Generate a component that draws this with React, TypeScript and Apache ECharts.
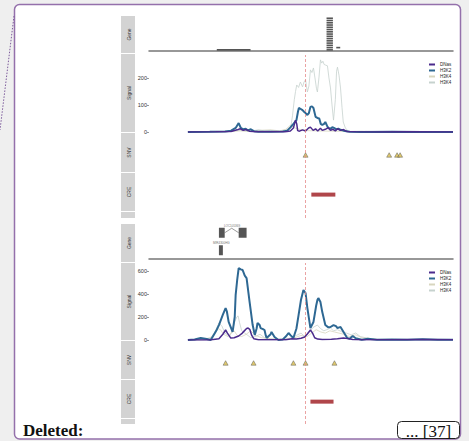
import React, { useEffect, useRef } from 'react';
import * as echarts from 'echarts';

// ---------- data ----------
const trackNames = ['Gene', 'Signal', 'SNV', 'CRE'];
const seriesNames = ['DNase', 'H3K27ac', 'H3K4me1', 'H3K4me3'];
const signalTicks1 = [0, 100, 200];
const signalTicks2 = [0, 200, 400, 600];
const variantPos = 51.5;

// plot 1 gene models: [start, end, row]
const geneBlocks1 = [
  [22.3, 33.4, 0],
  [58.4, 60.5, 0], [58.4, 60.5, 1], [58.4, 60.5, 2], [58.4, 60.5, 3], [58.4, 60.5, 4],
  [58.4, 60.5, 5], [58.4, 60.5, 6], [58.4, 60.5, 7], [58.4, 60.5, 8], [58.4, 60.5, 9],
  [58.4, 60.5, 10], [58.4, 60.5, 11], [58.4, 60.5, 12], [58.4, 60.5, 13], [58.4, 60.5, 14],
  [61.6, 62.9, 1],
];
// plot 2 gene models
const geneExons2 = [[23.0, 24.9, 1], [29.5, 32.1, 1], [23.0, 24.3, 0]];
const geneIntrons2 = [[24.9, 29.5, 1]];
const geneLabels2: [string, number, number][] = [['LOC105369', 27.3, 1], ['MIR4300HG', 23.8, 0]];

// plot 1 signals [position, signal]
const dnase1 = [[12.8,0],[22,1],[27,2],[29,8],[30,12],[31,6],[32,9],[33,3],[35,1],[45,1],[46.5,4],[47.5,15],[48.2,44],[48.6,30],[48.9,5],[49.5,3],[50.5,8],[51.5,4],[52.5,15],[53.1,18],[54,6],[54.8,12],[55.5,4],[56.4,14],[57,6],[58,10],[59,16],[59.7,6],[60.5,10],[61.3,4],[62,12],[63,6],[64,9],[65,2],[68,1],[75,0],[85,1],[100,0]];
const h3k27ac1 = [[12.8,0],[20,1],[25,2],[27,5],[28.5,15],[29.5,33],[30.2,15],[31,10],[31.8,12],[32.5,6],[33.5,10],[34.5,3],[36,1],[40,1],[44,2],[45.5,5],[46.6,18],[47.5,30],[48.5,44],[49.0,75],[49.3,89],[49.8,86],[50.5,81],[51.0,75],[51.5,70],[52.1,63],[52.6,70],[53.1,93],[53.6,95],[54.1,89],[54.8,56],[55.4,52],[56,50],[56.5,30],[57.0,26],[57.6,30],[58.0,37],[58.7,20],[59.0,15],[59.7,12],[60.3,18],[61,14],[61.6,10],[62.3,12],[63,8],[64,5],[65,3],[66,1],[70,0],[80,1],[90,0],[100,0]];
const h3k4me1_1 = [[12.8,0],[25,1],[30,4],[33,2],[36,6],[40,8],[43,4],[45,10],[46.5,25],[48,15],[50,8],[52,5],[55,4],[60,3],[65,2],[70,1],[100,0]];
const h3k4me3_1 = [[12.8,1],[20,2],[26,3],[30,6],[33,3],[36,8],[38,4],[40,6],[43,2],[45,8],[46.6,15],[47.2,60],[47.8,120],[48.2,150],[48.6,174],[49.2,165],[49.8,185],[50.5,167],[51,185],[51.5,193],[52.1,148],[52.6,170],[53.1,230],[53.6,220],[54.1,237],[54.6,200],[55.1,160],[55.4,148],[55.9,200],[56.4,267],[56.8,255],[57.2,262],[57.6,250],[58.0,248],[58.7,245],[59.2,200],[59.7,163],[60.2,100],[60.7,44],[61.3,120],[61.7,225],[62.0,240],[62.5,210],[63.0,163],[63.5,90],[63.9,37],[64.6,15],[65.6,2],[70,3],[75,1],[80,2],[90,1],[100,1]];

// plot 2 signals
const dnase2 = [[12.8,0],[20,1],[23,10],[24.3,50],[25.2,87],[25.8,60],[26.9,17],[28,20],[29.5,35],[30.5,55],[31.2,75],[32.1,100],[32.6,104],[33.2,90],[33.8,40],[34.5,10],[36,3],[40,2],[45,3],[47,10],[48.5,8],[50,15],[51.2,26],[52,50],[53.1,87],[53.8,60],[54.5,20],[55.5,8],[57,4],[60,6],[62,10],[64,18],[65.5,12],[67,4],[70,2],[80,3],[90,5],[100,2]];
const h3k27ac2 = [[12.8,0],[15,4],[17,18],[19,8],[20.3,0],[21,30],[22.3,90],[23.0,130],[24.3,220],[25.2,278],[25.6,250],[26.2,157],[27.5,70],[28.2,200],[28.5,390],[29.0,520],[29.5,626],[30.2,615],[30.8,609],[31.5,560],[32.1,539],[33.1,330],[34.1,130],[34.8,43],[35.4,100],[35.7,148],[36.4,130],[36.7,104],[37.5,95],[38.0,87],[38.4,40],[38.7,17],[40.0,50],[40.3,70],[41.3,26],[42.6,0],[44,5],[45,30],[45.9,61],[46.6,40],[47.5,17],[48.5,100],[49.2,217],[50.0,350],[50.8,435],[51.2,420],[51.5,409],[52.1,278],[53.1,104],[54.1,157],[55.0,300],[55.4,348],[55.7,365],[56.4,330],[57.0,243],[58.0,130],[59.0,110],[59.7,113],[60.7,130],[61.5,120],[62.0,104],[62.6,110],[63.0,113],[64.0,70],[65.2,17],[66,10],[67,35],[68,15],[70,3],[72,10],[75,2],[80,5],[85,2],[90,6],[95,2],[100,3]];
const h3k4me1_2 = [[12.8,0],[18,3],[21,30],[22.5,100],[23.5,90],[24.5,50],[26,30],[27,60],[28,80],[29,40],[30.5,30],[32,50],[33.5,80],[35,40],[37,20],[40,10],[45,5],[48,20],[50,40],[52,30],[53.5,60],[55,90],[56.5,70],[58,60],[59.5,80],[61,70],[62.5,60],[64,50],[66,30],[68,45],[70,20],[75,5],[100,2]];
const h3k4me3_2 = [[12.8,0],[18,5],[20,10],[21.5,60],[23,148],[24,120],[25,60],[26.5,30],[27.5,90],[28.2,160],[28.9,200],[29.3,210],[29.8,150],[30.5,80],[31.5,60],[32.5,40],[33.5,20],[35,30],[36.5,50],[38,20],[40,10],[42,5],[45,8],[47,20],[48.5,40],[50,60],[51.2,30],[52,50],[53.1,80],[54,110],[55.4,130],[56.4,100],[57.5,80],[58.5,90],[59.7,104],[60.7,80],[62,90],[63.5,70],[65,60],[66.5,45],[68,61],[69.5,30],[72,15],[75,5],[80,3],[100,1]];

// variants and CREs
const snv1 = [51.5, 79.0, 81.6, 82.6];
const snv2 = [25.2, 34.4, 47.5, 51.5, 61.0];
const cre1 = [[53.4, 61.3]];
const cre2 = [[53.1, 60.7]];

// ---------- layout / styles ----------
const COLORS: Record<string, string> = {
  DNase: '#4b2b8c',
  H3K27ac: '#2e6893',
  H3K4me1: '#d8d6bf',
  H3K4me3: '#c6d2ce',
};
const WIDTHS: Record<string, number> = { DNase: 1.5, H3K27ac: 2, H3K4me1: 0.8, H3K4me3: 0.8 };
const SANS = '"Liberation Sans", Arial, sans-serif';
const SERIF = '"Liberation Serif", "Times New Roman", serif';
const GL = 149;
const GW = 304;

export default function App() {
  const ref = useRef<HTMLDivElement>(null);

  useEffect(() => {
    if (!ref.current) return;
    const chart = echarts.init(ref.current, undefined, { renderer: 'svg' });

    const gridDefs = [
      { top: 16, height: 35 }, { top: 55, height: 77 }, { top: 132, height: 41 }, { top: 173, height: 45 },
      { top: 224, height: 35 }, { top: 263, height: 77 }, { top: 340, height: 41 }, { top: 381, height: 43 },
    ];
    const grid = gridDefs.map((g) => ({ left: GL, width: GW, top: g.top, height: g.height, containLabel: false }));

    const xAxis = gridDefs.map((_, i) => {
      const isGene = i % 4 === 0;
      return {
        type: 'value', gridIndex: i, min: 0, max: 100, show: isGene,
        axisLine: { show: isGene, lineStyle: { color: '#777', width: 1.5 } },
        axisTick: { show: false }, axisLabel: { show: false }, splitLine: { show: false },
      };
    });

    const signalAxis = (max: number, interval: number, ticks: number[]) => ({
      type: 'value', min: 0, max, interval,
      axisLine: { show: false },
      axisTick: { show: true, length: 2, lineStyle: { color: '#555', width: 0.6 }, customValues: ticks },
      axisLabel: {
        fontSize: 5.5, color: '#333', margin: 2, fontFamily: SANS,
        customValues: ticks,
        formatter: (v: number) => (ticks.includes(v) ? String(v) : ''),
      },
      splitLine: { show: false },
    });
    const hiddenY = (min: number, max: number) => ({ type: 'value', min, max, show: false, splitLine: { show: false } });

    const yAxis = [
      { ...hiddenY(0, 15.5), gridIndex: 0 },
      { ...signalAxis(285, 100, signalTicks1), gridIndex: 1 },
      { ...hiddenY(0, 1), gridIndex: 2 },
      { ...hiddenY(0, 1), gridIndex: 3 },
      { ...hiddenY(0, 2), gridIndex: 4 },
      { ...signalAxis(670, 200, signalTicks2), gridIndex: 5 },
      { ...hiddenY(0, 1), gridIndex: 6 },
      { ...hiddenY(0, 1), gridIndex: 7 },
    ];

    const markLine = {
      silent: true, symbol: ['none', 'none'], label: { show: false },
      lineStyle: { type: [3, 2], color: '#e58c8c', width: 0.8 },
      data: [{ xAxis: variantPos }],
    };

    const series: any[] = [];

    // Gene track plot 1
    series.push({
      type: 'custom', xAxisIndex: 0, yAxisIndex: 0, data: geneBlocks1, clip: false,
      renderItem: (_p: any, api: any) => {
        const a = api.coord([api.value(0), api.value(2) + 0.5]);
        const b = api.coord([api.value(1), api.value(2) + 0.5]);
        return { type: 'rect', shape: { x: a[0], y: a[1] - 0.8, width: b[0] - a[0], height: 1.6 }, style: { fill: '#555' } };
      },
    });
    // Gene track plot 2: exons, introns, labels
    series.push({
      type: 'custom', xAxisIndex: 4, yAxisIndex: 4, data: geneExons2, clip: false,
      renderItem: (_p: any, api: any) => {
        const a = api.coord([api.value(0), api.value(2) + 0.5]);
        const b = api.coord([api.value(1), api.value(2) + 0.5]);
        return { type: 'rect', shape: { x: a[0], y: a[1] - 5, width: b[0] - a[0], height: 10 }, style: { fill: '#555' } };
      },
    });
    series.push({
      type: 'custom', xAxisIndex: 4, yAxisIndex: 4, data: geneIntrons2, clip: false,
      renderItem: (_p: any, api: any) => {
        const a = api.coord([api.value(0), api.value(2) + 0.5]);
        const b = api.coord([api.value(1), api.value(2) + 0.5]);
        return {
          type: 'polyline',
          shape: { points: [[a[0], a[1]], [(a[0] + b[0]) / 2, a[1] - 4.5], [b[0], b[1]]] },
          style: { stroke: '#555', lineWidth: 0.6, fill: 'none' },
        };
      },
    });
    series.push({
      type: 'custom', xAxisIndex: 4, yAxisIndex: 4,
      data: geneLabels2.map((g) => [g[1], g[2]]), clip: false,
      renderItem: (params: any, api: any) => {
        const c = api.coord([api.value(0), api.value(1) + 0.5]);
        const name = geneLabels2[params.dataIndex][0];
        return {
          type: 'text', x: c[0], y: c[1] - 7.5,
          style: { text: name, fontSize: 3, fill: '#777', align: 'center', verticalAlign: 'middle', fontFamily: SANS },
        };
      },
    });

    // Signal tracks
    const signals = [
      { H3K4me3: h3k4me3_1, H3K4me1: h3k4me1_1, H3K27ac: h3k27ac1, DNase: dnase1 },
      { H3K4me3: h3k4me3_2, H3K4me1: h3k4me1_2, H3K27ac: h3k27ac2, DNase: dnase2 },
    ];
    signals.forEach((sig: any, p) => {
      ['H3K4me3', 'H3K4me1', 'H3K27ac', 'DNase'].forEach((name) => {
        series.push({
          type: 'line', name, xAxisIndex: p * 4 + 1, yAxisIndex: p * 4 + 1,
          data: sig[name], showSymbol: false, symbol: 'none', color: COLORS[name],
          lineStyle: { color: COLORS[name], width: WIDTHS[name] },
          ...(name === 'DNase' ? { markLine } : {}),
        });
      });
    });

    // SNVs and CREs
    [snv1, snv2].forEach((snv, p) => {
      series.push({
        type: 'scatter', xAxisIndex: p * 4 + 2, yAxisIndex: p * 4 + 2,
        data: snv.map((x) => [x, 0.44]), symbol: 'triangle', symbolSize: [5, 4.5],
        itemStyle: { color: '#d8bb48', borderColor: '#555', borderWidth: 0.6 },
        markLine,
      });
    });
    [cre1, cre2].forEach((cre, p) => {
      series.push({
        type: 'custom', xAxisIndex: p * 4 + 3, yAxisIndex: p * 4 + 3, data: cre,
        renderItem: (_p: any, api: any) => {
          const a = api.coord([api.value(0), 0.52]);
          const b = api.coord([api.value(1), 0.52]);
          return { type: 'rect', shape: { x: a[0], y: a[1] - 2, width: b[0] - a[0], height: 4 }, style: { fill: '#b0464a' } };
        },
        markLine,
      });
    });

    const legendBase = {
      orient: 'vertical', left: 429, data: seriesNames, icon: 'rect',
      itemWidth: 6, itemHeight: 2, itemGap: 1, padding: 0, selectedMode: false,
      textStyle: { fontSize: 4.5, lineHeight: 4, color: '#222', fontFamily: SANS, width: 13.5, overflow: 'truncate', ellipsis: '' },
    };

    // Strips
    const strips = [
      [[16, 53], [54, 132], [133, 172], [173, 211], [212, 218]],
      [[224, 262], [263, 340], [341, 379], [380, 418], [419, 424]],
    ];
    const graphics: any[] = [
      { type: 'rect', z: -10, shape: { x: 14.5, y: 4.5, width: 446, height: 434.5, r: 5 }, style: { fill: '#fff', stroke: '#9470ab', lineWidth: 1.5 } },
      { type: 'line', z: -10, shape: { x1: 14, y1: 16, x2: 0, y2: 130 }, style: { stroke: '#7d5b9c', lineWidth: 1, lineDash: [1.5, 1.5] } },
    ];
    strips.forEach((plot) => {
      plot.forEach(([y0, y1], i) => {
        graphics.push({ type: 'rect', z: -5, shape: { x: 121, y: y0, width: 14, height: y1 - y0 }, style: { fill: '#d3d3d3' } });
        if (i < 4) {
          graphics.push({
            type: 'text', z: -4, x: 128.5, y: (y0 + y1) / 2, rotation: Math.PI / 2,
            style: { text: trackNames[i], fontSize: 5, fill: '#333', align: 'center', verticalAlign: 'middle', fontFamily: SANS },
          });
        }
      });
    });
    graphics.push(
      { type: 'text', x: 23, y: 430, style: { text: 'Deleted:', font: `bold 17px ${SERIF}`, fill: '#111', verticalAlign: 'middle' } },
      { type: 'rect', shape: { x: 397.5, y: 421.5, width: 62, height: 17, r: 4 }, style: { fill: '#fff', stroke: '#222', lineWidth: 1 } },
      { type: 'text', x: 428.5, y: 431, style: { text: '... [37]', font: `17px ${SERIF}`, fill: '#111', align: 'center', verticalAlign: 'middle' } },
    );

    chart.setOption({
      animation: false,
      backgroundColor: '#efefef',
      grid, xAxis, yAxis, series,
      legend: [{ ...legendBase, top: 62 }, { ...legendBase, top: 270 }],
      graphic: graphics,
    });
    return () => chart.dispose();
  }, []);

  return <div ref={ref} style={{ position: 'fixed', left: 0, top: 0, width: 469, height: 441 }} />;
}
